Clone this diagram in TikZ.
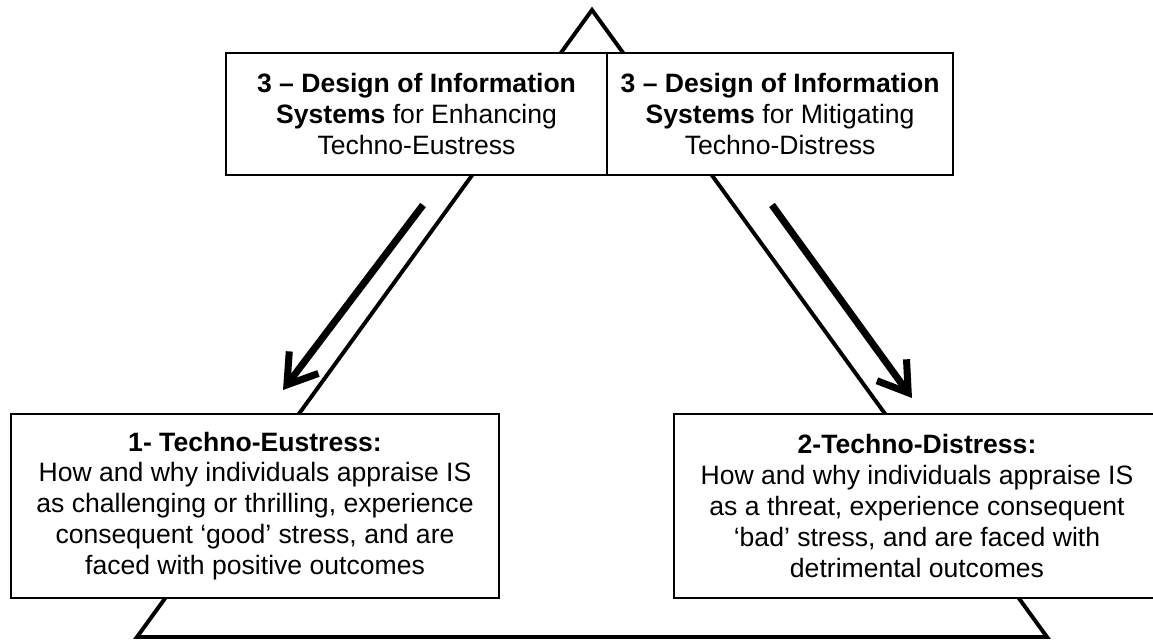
\documentclass[tikz,border=0pt]{standalone}
\usepackage{fontspec}
\setmainfont{Liberation Sans}
\usetikzlibrary{arrows.meta}
\usetikzlibrary{positioning}

\tikzset{
    infobox/.style={draw, line width=1pt, fill=white, align=center, inner sep=0pt, outer sep=0pt,
        font=\fontsize{18.9}{22}\selectfont},
    leg/.style={line width=2.8pt},
    flow/.style={line width=5pt, -{Straight Barb[length=20pt,width=26pt]}}
}

\begin{document}
\begin{tikzpicture}[x=0.025cm, y=-0.025cm]

    \useasboundingbox (0,0) rectangle (1153,640);

    % Triangle behind the boxes
    \coordinate (apex) at (592,10);
    \coordinate (baseL) at (137,637);
    \coordinate (baseR) at (1047,637);
    \draw[leg] (baseL) -- (apex) -- (baseR) -- cycle;

    % Design boxes at the top
    \node[infobox, minimum width=9.525cm, minimum height=3.05cm] (dsEu) at (416.5,114)
        {\textbf{3 – Design of Information}\\ \textbf{Systems} for Enhancing\\ Techno-Eustress};
    \node[infobox, minimum width=8.65cm, minimum height=3.05cm, right=0pt of dsEu] (dsDi)
        {\textbf{3 – Design of Information}\\ \textbf{Systems} for Mitigating\\ Techno-Distress};

    % Eustress and distress boxes (the right one runs off the page)
    \node[infobox, minimum width=12.2cm, minimum height=4.6cm] (eustress) at (255,506)
        {\textbf{1- Techno-Eustress:}\\ How and why individuals appraise IS\\ as challenging or thrilling, experience\\
         consequent ‘good’ stress, and are\\ faced with positive outcomes};
    \node[infobox, minimum width=12.15cm, minimum height=4.6cm] (distress) at (917,506)
        {\textbf{2-Techno-Distress:}\\ How and why individuals appraise IS\\ as a threat, experience consequent\\
         ‘bad’ stress, and are faced with\\ detrimental outcomes};

    % Arrows down from the design boxes
    \coordinate (euFrom) at (423,205);
    \coordinate (euTo) at (283,390);
    \coordinate (diFrom) at (772,205);
    \coordinate (diTo) at (912,398);
    \draw[flow] (euFrom) -- (euTo);
    \draw[flow] (diFrom) -- (diTo);

\end{tikzpicture}
\end{document}
